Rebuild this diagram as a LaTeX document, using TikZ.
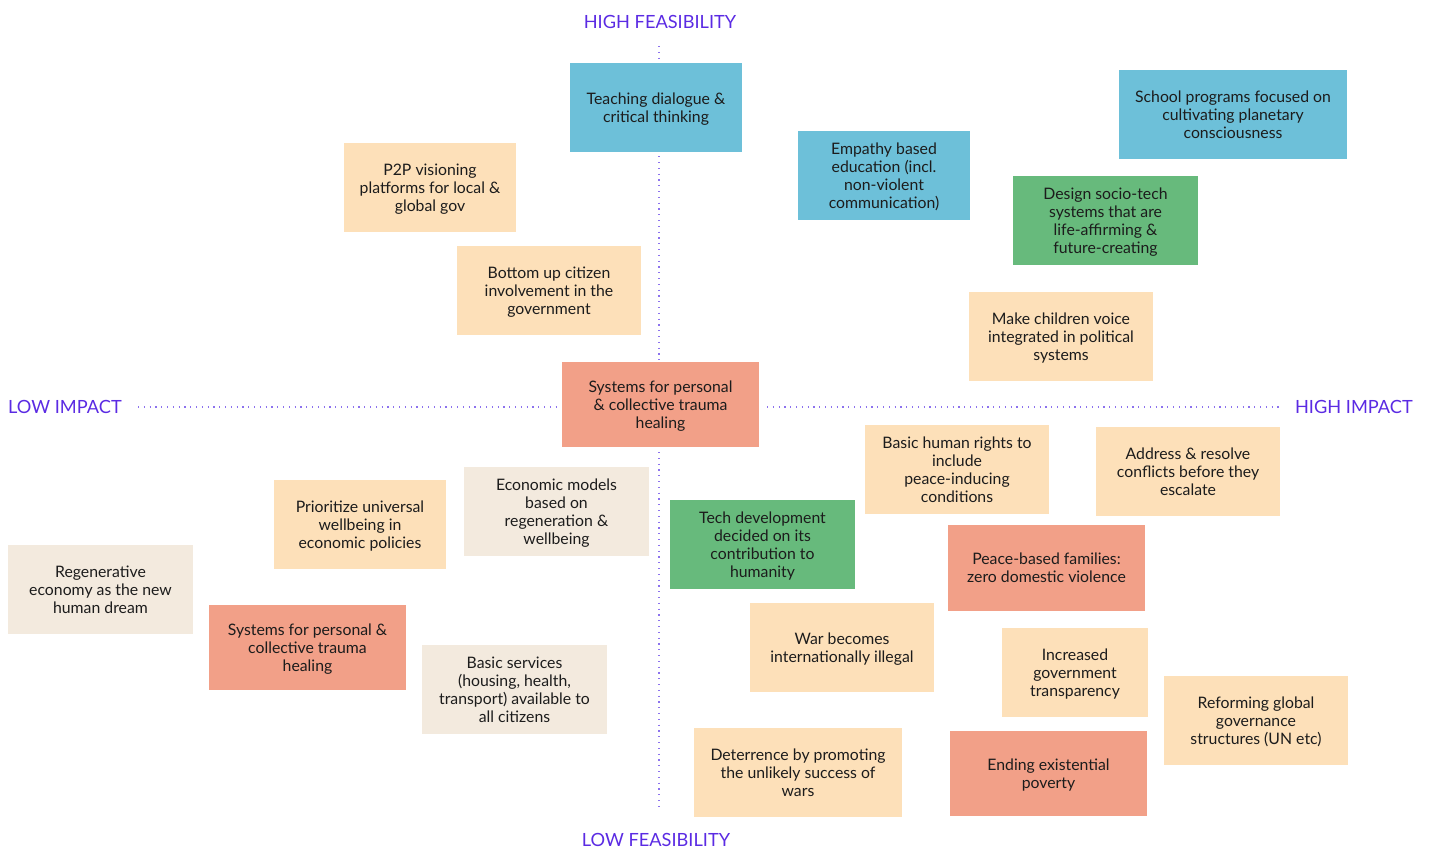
\documentclass[tikz,border=0pt]{standalone}
\usepackage{fontspec}
\setmainfont{Lato}
\definecolor{cblue}{HTML}{6DC0D9}
\definecolor{cgreen}{HTML}{67BA7C}
\definecolor{cpeach}{HTML}{FDE0B9}
\definecolor{csalmon}{HTML}{F2A088}
\definecolor{cbeige}{HTML}{F3EADE}
\definecolor{caxis}{HTML}{5B2BE3}
\definecolor{cdots}{HTML}{8C72EE}
\definecolor{ctext}{HTML}{1C1C1C}
\begin{document}
\begin{tikzpicture}[x=1pt,y=-1pt,
  card/.style={inner sep=0pt, align=center, text=ctext,
    font=\fontsize{15.8}{18}\selectfont},
  blue/.style={card, fill=cblue},
  green/.style={card, fill=cgreen},
  peach/.style={card, fill=cpeach},
  salmon/.style={card, fill=csalmon},
  beige/.style={card, fill=cbeige},
  axislabel/.style={text=caxis, inner sep=0pt, font=\fontsize{18.2}{22}\selectfont},
  axisline/.style={cdots, line width=1.5pt, dash pattern=on 1.2pt off 4.6pt}]
\useasboundingbox (0,0) rectangle (1429,851);
% axis labels
\node[axislabel] (hf) at (660,22) {HIGH FEASIBILITY};
\node[axislabel] (lf) at (656,840) {LOW FEASIBILITY};
\node[axislabel, anchor=west] (li) at (8,407) {LOW IMPACT};
\node[axislabel, anchor=east] (hi) at (1413,407) {HIGH IMPACT};
% axis lines
\coordinate (vtop) at (659,46);
\coordinate (vbot) at (659,808);
\coordinate (hleft) at (138,407);
\coordinate (hlend) at (557,407);
\coordinate (hrstart) at (767,407);
\coordinate (hright) at (1283,407);
\draw[axisline] (vtop) -- (vbot);
\draw[axisline] (hleft) -- (hlend);
\draw[axisline] (hrstart) -- (hright);
% cards
\begin{scope}[every node/.append style={text depth=0pt}]
\node[blue, minimum width=172pt, minimum height=89pt] (teach) at (656,107.5) {Teaching dialogue \&\\critical thinking};
\node[blue, minimum width=228pt, minimum height=89pt] (school) at (1233,114.5) {School programs focused on\\cultivating planetary\\consciousness};
\node[blue, minimum width=172pt, minimum height=89pt] (empathy) at (884,175.5) {Empathy based\\education (incl.\\non-violent\\communication)};
\node[green, minimum width=185pt, minimum height=89pt] (design) at (1105.5,220.5) {Design socio-tech\\systems that are\\life-affirming \&\\future-creating};
\node[peach, minimum width=172pt, minimum height=89pt] (p2p) at (430,187.5) {P2P visioning\\platforms for local \&\\global gov};
\node[peach, minimum width=184pt, minimum height=89pt] (bottom) at (549,290.5) {Bottom up citizen\\involvement in the\\government};
\node[peach, minimum width=184pt, minimum height=89pt] (children) at (1061,336.5) {Make children voice\\integrated in political\\systems};
\node[salmon, minimum width=197pt, minimum height=85pt] (center) at (660.5,404.5) {Systems for personal\\\& collective trauma\\healing};
\node[peach, minimum width=184pt, minimum height=89pt] (rights) at (957,469.5) {Basic human rights to\\include\\peace-inducing\\conditions};
\node[peach, minimum width=184pt, minimum height=89pt] (address) at (1188,471.5) {Address \& resolve\\conflicts before they\\escalate};
\node[beige, minimum width=185pt, minimum height=89pt] (econ) at (556.5,511.5) {Economic models\\based on\\regeneration \&\\wellbeing};
\node[peach, minimum width=172pt, minimum height=89pt] (prior) at (360,524.5) {Prioritize universal\\wellbeing in\\economic policies};
\node[green, minimum width=185pt, minimum height=89pt] (tech) at (762.5,544.5) {Tech development\\decided on its\\contribution to\\humanity};
\node[salmon, minimum width=197pt, minimum height=86pt] (families) at (1046.5,568) {Peace-based families:\\zero domestic violence};
\node[beige, minimum width=185pt, minimum height=89pt] (regen) at (100.5,589.5) {Regenerative\\economy as the new\\human dream};
\node[salmon, minimum width=197pt, minimum height=85pt] (sysleft) at (307.5,647.5) {Systems for personal \&\\collective trauma\\healing};
\node[peach, minimum width=184pt, minimum height=89pt] (war) at (842,647.5) {War becomes\\internationally illegal};
\node[beige, minimum width=185pt, minimum height=89pt] (services) at (514.5,689.5) {Basic services\\(housing, health,\\transport) available to\\all citizens};
\node[peach, minimum width=146pt, minimum height=89pt] (increased) at (1075,672.5) {Increased\\government\\transparency};
\node[peach, minimum width=184pt, minimum height=89pt] (reform) at (1256,720.5) {Reforming global\\governance\\structures (UN etc)};
\node[peach, minimum width=208pt, minimum height=89pt] (deter) at (798,772.5) {Deterrence by promoting\\the unlikely success of\\wars};
\node[salmon, minimum width=197pt, minimum height=85pt] (ending) at (1048.5,773.5) {Ending existential\\poverty};
\end{scope}
\end{tikzpicture}
\end{document}
